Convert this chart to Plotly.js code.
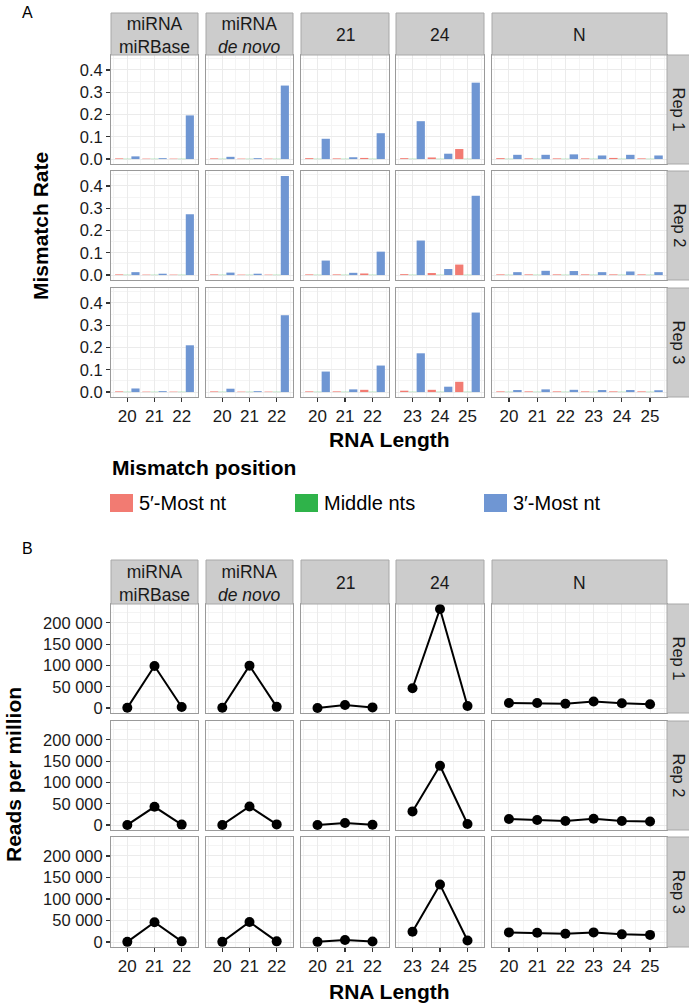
<!DOCTYPE html>
<html><head><meta charset="utf-8">
<script src="https://cdn.plot.ly/plotly-3.0.1.min.js"></script>
<style>html,body{margin:0;padding:0;background:#fff}#chart{width:689px;height:1003px}</style>
</head><body><div id="chart"></div>
<script>
// ---------------- data ----------------
const facetNames = ['miRNA<br>miRBase', 'miRNA<br><i>de novo</i>', '21', '24', 'N'];
const repNames = ['Rep 1', 'Rep 2', 'Rep 3'];
const facetLengths = [[20,21,22],[20,21,22],[20,21,22],[23,24,25],[20,21,22,23,24,25]];
const positionNames = ['5′-Most nt', 'Middle nts', '3′-Most nt'];

// mismatch rate, per rep, per facet, per RNA length
const five_rep1  = [[0.003,0.002,0.002],[0.003,0.002,0.002],[0.004,0.003,0.005],[0.004,0.007,0.045],[0.004,0.003,0.003,0.003,0.005,0.003]];
const mid_rep1   = [[0.001,0.001,0.001],[0.001,0.001,0.001],[0.001,0.001,0.001],[0.001,0.001,0.001],[0.001,0.001,0.001,0.001,0.001,0.001]];
const three_rep1 = [[0.012,0.004,0.196],[0.010,0.004,0.330],[0.091,0.008,0.116],[0.170,0.024,0.343],[0.019,0.019,0.021,0.016,0.019,0.016]];
const five_rep2  = [[0.003,0.002,0.002],[0.003,0.002,0.002],[0.003,0.003,0.007],[0.004,0.009,0.047],[0.003,0.003,0.003,0.003,0.003,0.003]];
const mid_rep2   = [[0.001,0.001,0.001],[0.001,0.001,0.001],[0.001,0.001,0.001],[0.001,0.001,0.001],[0.001,0.001,0.001,0.001,0.001,0.001]];
const three_rep2 = [[0.013,0.006,0.273],[0.011,0.006,0.445],[0.065,0.010,0.105],[0.155,0.027,0.356],[0.013,0.019,0.018,0.013,0.016,0.013]];
const five_rep3  = [[0.003,0.002,0.002],[0.003,0.002,0.002],[0.003,0.003,0.010],[0.006,0.010,0.046],[0.003,0.003,0.003,0.003,0.003,0.003]];
const mid_rep3   = [[0.001,0.001,0.001],[0.001,0.001,0.001],[0.001,0.001,0.001],[0.001,0.001,0.001],[0.001,0.001,0.001,0.001,0.001,0.001]];
const three_rep3 = [[0.016,0.004,0.210],[0.015,0.004,0.345],[0.092,0.012,0.119],[0.174,0.024,0.357],[0.009,0.012,0.010,0.009,0.009,0.008]];

// reads per million
const rpm_rep1 = [[500,98500,2500],[500,99500,2800],[300,7000,1500],[46500,232500,4800],[11800,11800,10200,15500,11200,9000]];
const rpm_rep2 = [[300,42800,1000],[300,43500,1500],[300,4800,800],[32000,139000,2500],[14000,12000,9500,14800,9500,8200]];
const rpm_rep3 = [[300,46000,1500],[300,46500,1500],[300,4600,1000],[23800,133500,3500],[22300,21500,19200,22300,17800,16500]];

const mmTicks = [0, 0.1, 0.2, 0.3, 0.4];
const rpmTicks = [0, 50000, 100000, 150000, 200000];

// ---------------- layout helpers ----------------
const W = 689, H = 1003;
const FONT = 'Liberation Sans, Arial, Helvetica, sans-serif';
const colPx = [[111,198],[206,293],[301,389],[396,484],[492,667]];
const rowsA = [[55,164],[171,280],[288,397]];
const rowsB = [[604,713],[721,830],[837,947]];
const stripA = [13,55], stripB = [560,604];
const rightStrip = [667,689];
const colors = ['#F27B72', '#2FB34A', '#6F96D3'];
const fx = p => p / W, fy = p => 1 - p / H;

const mmData = [[five_rep1, mid_rep1, three_rep1],[five_rep2, mid_rep2, three_rep2],[five_rep3, mid_rep3, three_rep3]];
const rpmData = [rpm_rep1, rpm_rep2, rpm_rep3];

function maxOf(arrs){ let m = -Infinity; arrs.forEach(a => a.forEach(f => f.forEach(v => { if (v > m) m = v; }))); return m; }
const mmMax = maxOf([].concat(...mmData));
const rpmMax = maxOf(rpmData);
const mmRange = [-0.05 * mmMax, 1.05 * mmMax];
const rpmRange = [-0.05 * rpmMax, 1.05 * rpmMax];

const fmtThousands = v => String(v).replace(/\B(?=(\d{3})+(?!\d))/g, ' ');

const layout = {
  width: W, height: H, margin: {l:0, r:0, t:0, b:0},
  paper_bgcolor: '#fff', plot_bgcolor: '#fff',
  barmode: 'group', bargap: 0.1, bargroupgap: 0,
  font: {family: FONT, color: '#1a1a1a'},
  shapes: [], annotations: [],
  showlegend: false
};
const traces = [];

function ann(o){
  layout.annotations.push(Object.assign({xref:'paper', yref:'paper', showarrow:false, xanchor:'center', yanchor:'middle'}, o));
}

let k = 0;
function addPanel(rows, yRange, yTicks, yText, isBar){
  for (let r = 0; r < 3; r++) {
    for (let c = 0; c < 5; c++) {
      k++;
      const xs = facetLengths[c];
      const xa = 'xaxis' + (k === 1 ? '' : k), ya = 'yaxis' + (k === 1 ? '' : k);
      const xr = 'x' + (k === 1 ? '' : k), yr = 'y' + (k === 1 ? '' : k);
      const lo = Math.min(...xs), hi = Math.max(...xs);
      const half = []; for (let v = lo - 0.5; v <= hi + 0.5; v += 1) half.push(v);
      const step = yTicks[1] - yTicks[0];
      const yMinor = [yTicks[0] - step / 2]; for (let i = 0; i < yTicks.length; i++) yMinor.push(yTicks[i] + step / 2);
      layout[xa] = {
        domain: [fx(colPx[c][0]), fx(colPx[c][1])], anchor: yr,
        range: [lo - 0.6, hi + 0.6], tickmode: 'array', tickvals: xs, ticktext: xs.map(String),
        showticklabels: r === 2, ticks: r === 2 ? 'outside' : '', ticklen: 4, tickcolor: '#333', tickwidth: 1.2,
        tickfont: {size: 17, family: FONT, color: '#1a1a1a'},
        showgrid: true, gridcolor: '#EBEBEB', gridwidth: 1,
        minor: {tickmode: 'array', tickvals: half, showgrid: true, gridcolor: '#F4F4F4', gridwidth: 1, ticks: ''},
        showline: true, mirror: true, linecolor: '#9A9A9A', linewidth: 1, zeroline: false, fixedrange: true
      };
      layout[ya] = {
        domain: [fy(rows[r][1]), fy(rows[r][0])], anchor: xr,
        range: yRange, tickmode: 'array', tickvals: yTicks, ticktext: yText,
        showticklabels: c === 0, ticks: c === 0 ? 'outside' : '', ticklen: 4, tickcolor: '#333', tickwidth: 1.2,
        tickfont: {size: 16.5, family: FONT, color: '#1a1a1a'},
        showgrid: true, gridcolor: '#EBEBEB', gridwidth: 1,
        minor: {tickmode: 'array', tickvals: yMinor, showgrid: true, gridcolor: '#F4F4F4', gridwidth: 1, ticks: ''},
        showline: true, mirror: true, linecolor: '#9A9A9A', linewidth: 1, zeroline: false, fixedrange: true
      };
      if (isBar) {
        for (let p = 0; p < 3; p++) {
          traces.push({
            type: 'bar', x: xs, y: mmData[r][p][c], xaxis: xr, yaxis: yr,
            name: positionNames[p], legendgroup: positionNames[p], showlegend: false,
            marker: {color: colors[p], line: {width: 0}}, hoverinfo: 'x+y'
          });
        }
      } else {
        traces.push({
          type: 'scatter', mode: 'lines+markers', x: xs, y: rpmData[r][c], xaxis: xr, yaxis: yr,
          line: {color: '#000', width: 2}, marker: {color: '#000', size: 10}, showlegend: false
        });
      }
    }
  }
}

addPanel(rowsA, mmRange, mmTicks, mmTicks.map(v => v.toFixed(1)), true);
addPanel(rowsB, rpmRange, rpmTicks, rpmTicks.map(fmtThousands), false);

// strips
function addStrips(strip, rows){
  for (let c = 0; c < 5; c++) {
    layout.shapes.push({type: 'rect', xref: 'paper', yref: 'paper',
      x0: fx(colPx[c][0]), x1: fx(colPx[c][1]), y0: fy(strip[1]), y1: fy(strip[0]),
      fillcolor: '#CCCCCC', line: {color: '#A8A8A8', width: 1}});
    ann({x: fx((colPx[c][0] + colPx[c][1]) / 2), y: fy((strip[0] + strip[1]) / 2 + 1),
      text: facetNames[c], align: 'center', font: {size: 17.5, family: FONT, color: '#1a1a1a'}});
  }
  for (let r = 0; r < 3; r++) {
    layout.shapes.push({type: 'rect', xref: 'paper', yref: 'paper',
      x0: fx(rightStrip[0]), x1: fx(rightStrip[1]) + 0.01, y0: fy(rows[r][1]), y1: fy(rows[r][0]),
      fillcolor: '#CCCCCC', line: {color: '#A8A8A8', width: 1}});
    ann({x: fx((rightStrip[0] + rightStrip[1]) / 2 + 1), y: fy((rows[r][0] + rows[r][1]) / 2),
      text: repNames[r], textangle: 90, font: {size: 16.5, family: FONT, color: '#1a1a1a'}});
  }
}
addStrips(stripA, rowsA);
addStrips(stripB, rowsB);

// manual legend (keys + labels) for the mismatch position fill
const legendKeysX = [110, 295, 484];
const legendY = [494, 512];
ann({x: fx(110), y: fy(468), xanchor: 'left', text: '<b>Mismatch position</b>', font: {size: 21, family: FONT, color: '#000'}});
for (let p = 0; p < 3; p++) {
  layout.shapes.push({type: 'rect', xref: 'paper', yref: 'paper',
    x0: fx(legendKeysX[p]), x1: fx(legendKeysX[p] + 23), y0: fy(legendY[1]), y1: fy(legendY[0]),
    fillcolor: colors[p], line: {width: 0}});
  ann({x: fx(legendKeysX[p] + 27), y: fy((legendY[0] + legendY[1]) / 2), xanchor: 'left',
    text: positionNames[p], font: {size: 20, family: FONT, color: '#000'}});
}

// titles & panel letters
const titleFont = {size: 21, family: FONT, color: '#000'};
ann({x: fx(389), y: fy(440), text: '<b>RNA Length</b>', font: titleFont});
ann({x: fx(389), y: fy(991), text: '<b>RNA Length</b>', font: titleFont});
ann({x: fx(40), y: fy(226), text: '<b>Mismatch Rate</b>', textangle: -90, font: titleFont});
ann({x: fx(13), y: fy(775), text: '<b>Reads per million</b>', textangle: -90, font: titleFont});
ann({x: fx(27), y: fy(13), text: 'A', font: {size: 16, family: FONT, color: '#000'}});
ann({x: fx(27), y: fy(548), text: 'B', font: {size: 16, family: FONT, color: '#000'}});

Plotly.newPlot('chart', traces, layout, {displayModeBar: false, staticPlot: true});
</script>
</body></html>
